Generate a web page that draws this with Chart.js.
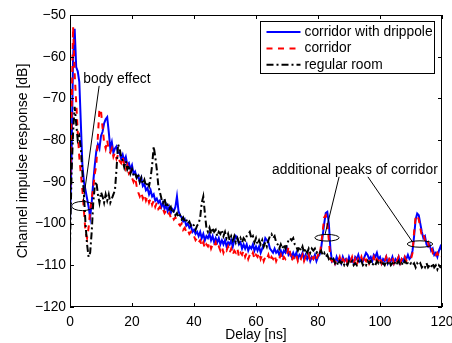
<!DOCTYPE html>
<html>
<head>
<meta charset="utf-8">
<title>Channel impulse response</title>
<script src="https://cdn.jsdelivr.net/npm/chart.js@4.4.1/dist/chart.umd.min.js"></script>
<style>
  html, body { margin: 0; padding: 0; background: #fff; }
  #wrap { width: 452px; height: 343px; }
</style>
</head>
<body>
<div id="wrap"><canvas id="cir-chart" width="452" height="343"></canvas></div>
<script>
// delay axis in ns (one sample every 0.5 ns)
const delayNs = [
  0,0.5,1,1.5,2,2.5,3,3.5,4,4.5, 5,5.5,6,6.5,7,7.5,8,8.5,9,9.5,
  10,10.5,11,11.5,12,12.5,13,13.5,14,14.5, 15,15.5,16,16.5,17,17.5,18,18.5,19,19.5,
  20,20.5,21,21.5,22,22.5,23,23.5,24,24.5, 25,25.5,26,26.5,27,27.5,28,28.5,29,29.5,
  30,30.5,31,31.5,32,32.5,33,33.5,34,34.5, 35,35.5,36,36.5,37,37.5,38,38.5,39,39.5,
  40,40.5,41,41.5,42,42.5,43,43.5,44,44.5, 45,45.5,46,46.5,47,47.5,48,48.5,49,49.5,
  50,50.5,51,51.5,52,52.5,53,53.5,54,54.5, 55,55.5,56,56.5,57,57.5,58,58.5,59,59.5,
  60,60.5,61,61.5,62,62.5,63,63.5,64,64.5, 65,65.5,66,66.5,67,67.5,68,68.5,69,69.5,
  70,70.5,71,71.5,72,72.5,73,73.5,74,74.5, 75,75.5,76,76.5,77,77.5,78,78.5,79,79.5,
  80,80.5,81,81.5,82,82.5,83,83.5,84,84.5, 85,85.5,86,86.5,87,87.5,88,88.5,89,89.5,
  90,90.5,91,91.5,92,92.5,93,93.5,94,94.5, 95,95.5,96,96.5,97,97.5,98,98.5,99,99.5,
  100,100.5,101,101.5,102,102.5,103,103.5,104,104.5, 105,105.5,106,106.5,107,107.5,108,108.5,109,109.5,
  110,110.5,111,111.5,112,112.5,113,113.5,114,114.5, 115,115.5,116,116.5,117,117.5,118,118.5,119,119.5,
  120
];

// channel impulse response in dB
const drippole = [
  -100,-84,-60,-53.3,-62.5,-63.5,-66,-76,-86,-90, -92,-94,-96,-98.5,-95,-90,-86,-82.5,-81,-82,
  -79,-78,-76,-75,-74.5,-78,-82,-80.5,-83,-82, -81.5,-83,-83,-84.5,-83.5,-85,-84,-86,-85.5,-87,
  -86,-88,-87.5,-89,-88.5,-90,-89,-91,-90.5,-92, -91.5,-93,-92,-93.5,-93,-94.5,-94,-95,-94.5,-96,
  -95,-96.5,-95.5,-97,-96,-97.5,-96.5,-97,-96,-93.5, -97,-98,-98.5,-99.5,-99,-100.5,-100,-101,-100.5,-102,
  -101.5,-102.5,-102,-103,-102,-103.5,-102.5,-104,-103,-103.5, -102.5,-104,-103,-104.5,-103.5,-104.5,-103.5,-105,-104,-105,
  -104,-105.5,-104.5,-105,-104,-105.5,-104,-103,-103.5,-105, -104.5,-106,-105,-106,-105,-106.5,-105.5,-106,-105,-106.5,
  -105.5,-106.5,-105.5,-107,-106,-105,-103.5,-104,-104.5,-106, -106.5,-107,-106,-107,-106.5,-107.5,-106.5,-107.5,-106.5,-107,
  -106,-107.5,-107,-108,-107,-108,-107,-108.5,-107.5,-108, -107,-108.5,-107.5,-108.5,-107.5,-109,-108,-108.5,-107.5,-109,
  -108,-107.5,-106,-103,-100,-97.5,-97.2,-100,-106,-109, -108.5,-109.5,-108,-109,-108.5,-109.5,-108,-109,-108.5,-109.5,
  -108,-109,-108.5,-109.5,-108,-108.5,-107.5,-109,-108.5,-109, -108,-107,-107.5,-108.5,-108,-109,-107.5,-108,-107,-108.5,
  -108,-109.5,-108.5,-109,-108,-109.5,-108.5,-109,-108,-109.5, -108.5,-109,-108,-109.5,-108.5,-109,-108,-108.5,-107.5,-108.5,
  -108,-106.5,-103,-99,-97.6,-98,-100,-102,-103.5,-103, -105,-105.5,-105,-106.5,-106,-107.5,-107,-108,-106.5,-105.5,
  -106.5
];
const corridor = [
  -94,-74,-52.8,-64,-71,-78,-84,-88,-92,-97, -102,-103.5,-101,-97,-94,-91.5,-88,-86,-79,-72.5,
  -73,-77,-80.5,-82,-80,-82.5,-83,-82,-84,-83, -84.5,-83.5,-85,-85.5,-84,-86,-87,-86,-88,-87.5,
  -89,-90,-89,-91,-92.5,-93.5,-92.5,-94,-93,-94.5, -93.5,-95,-94,-95.5,-94.5,-96,-95,-96.5,-96,-97,
  -96.5,-97.5,-97,-98,-97.5,-98.5,-98,-99,-98.5,-99.5, -100,-100.5,-100,-101.5,-101,-102,-101.5,-102.5,-102,-103,
  -103,-104,-103.5,-104.5,-104,-105.5,-104.5,-106,-105,-105.5, -104.5,-106,-105,-105.5,-104.5,-106,-105.5,-106.5,-105.5,-107,
  -106,-106.5,-105.5,-107,-106,-107.5,-106.5,-107,-106,-108, -107,-107.5,-106.5,-108,-107,-108.5,-107.5,-108,-107,-108.5,
  -107.5,-108,-107,-108.5,-107.5,-109,-108,-108.5,-107.5,-109, -108,-108.5,-107.5,-109,-108,-108.5,-107.5,-109,-108,-108.5,
  -107.5,-105.5,-107,-109,-108,-108.5,-107.5,-109,-108,-108.5, -107.5,-109,-108,-108.5,-107.5,-109,-108,-108.5,-107.5,-108.5,
  -107.5,-108,-105,-102,-98.5,-98,-100,-104,-108.5,-109, -108,-109.5,-108.5,-109,-108,-109.5,-108.5,-109,-108,-109.5,
  -108.5,-109,-108,-109.5,-108.5,-110,-108.5,-109,-108,-109.5, -108.5,-109,-108,-109.5,-108.5,-109,-108,-109.5,-108.5,-109,
  -108,-109.5,-108.5,-109,-108,-109.5,-108.5,-109,-108,-109.5, -108.5,-109,-108,-109.5,-108.5,-109,-108,-109,-108.5,-108.5,
  -108.5,-107,-102,-98.4,-98,-99,-101,-103,-102.5,-104, -105,-104.5,-106,-105.5,-107,-106.5,-107.5,-107,-108,-107.5,
  -108
];
const regularRoom = [
  -105,-88,-78,-72,-76,-80,-79,-82,-88,-93, -100,-105,-108,-107,-102,-95,-91,-90,-93,-95,
  -92.5,-93.5,-95,-93,-94.5,-93,-95,-94,-93,-92, -87,-81,-82,-84,-85,-86.5,-85,-87,-86,-88,
  -87,-88.5,-88,-89,-88,-90,-89,-90.5,-89.5,-91, -90,-91,-89,-86,-81.5,-84,-87,-91,-92.5,-94,
  -95,-94,-96,-95.5,-96.5,-96,-97.5,-97,-98,-97.5, -98.5,-98,-99,-98.5,-99.5,-99,-100,-99.5,-100.5,-100,
  -100.5,-101.5,-100.5,-100,-98.5,-95,-93.5,-97.5,-101,-102, -101,-102.5,-101,-102,-101.5,-103,-102,-102.5,-101.5,-103,
  -102,-103.5,-102.5,-104,-103,-104,-103,-104.5,-103.5,-104.5, -103.5,-104.5,-103.5,-104,-103,-102.5,-102,-103.5,-103,-104.5,
  -103.5,-105,-104,-105,-104,-105.5,-104.5,-105.5,-104,-103, -102.5,-103.5,-103,-104.5,-105,-106,-105,-106,-105,-106,
  -105,-104,-103.5,-104,-103.5,-105,-105.5,-106.5,-105.5,-106.5, -105.5,-107,-106,-107,-106,-107,-106,-106.5,-106,-107,
  -106.5,-107,-106.5,-107.5,-107,-108,-107.5,-108.5,-108,-109, -108.5,-109.5,-109,-110,-109,-109.5,-109,-110,-109.5,-110,
  -109,-109.5,-109,-110,-109.5,-110,-109,-109.5,-109,-110, -109.5,-110,-109,-109.5,-109,-110,-109.5,-110,-109,-109.5,
  -109,-110,-109.5,-110,-109,-109.5,-109,-110,-109.5,-110, -109,-109.5,-109,-110,-109.5,-110,-109,-109.5,-109.5,-110,
  -109.5,-110,-109.5,-110.5,-109.5,-110,-109.5,-110.5,-110,-110.5, -109.5,-110.5,-110,-110.5,-109.5,-110.5,-110,-111,-110,-110.5,
  -110.5
];

const seriesNames = ['corridor with drippole', 'corridor', 'regular room'];
const xTicks = [0, 20, 40, 60, 80, 100, 120];
const yTicks = [-120, -110, -100, -90, -80, -70, -60, -50];

const FONT = '"Liberation Sans", Arial, Helvetica, sans-serif';
const FONT_SIZE = 13.8;

function pts(values) {
  return values.map((v, i) => ({ x: delayNs[i], y: v }));
}

// annotations, in data units
const notes = {
  body: { text: 'body effect', at: [4.3, -65.3], ring: [4.0, -95.8, 3.5, 1.1], lead: [[9.4, -67], [4.3, -94.6]] },
  peaks: {
    text: 'additional peaks of corridor', at: [65.2, -87.2],
    rings: [[82.9, -103.4, 3.9, 0.8], [112.9, -104.9, 4.1, 0.77]],
    leads: [[[86.8, -88.8], [82.3, -102.5]], [[96.1, -88.8], [110.3, -104.2]]]
  }
};

const styles = [
  { color: '#0000ff', dash: [] },
  { color: '#ff0000', dash: [6, 5.5] },
  { color: '#000000', dash: [7, 3, 2, 3] }
];

const framePlugin = {
  id: 'frame',
  afterDatasetsDraw(chart) {
    const { ctx, chartArea: a, scales: { x, y } } = chart;
    ctx.save();
    ctx.strokeStyle = '#000';
    ctx.lineWidth = 1;
    ctx.setLineDash([]);
    ctx.strokeRect(Math.round(a.left) + 0.5, Math.round(a.top) + 0.5,
      Math.round(a.width) - 1, Math.round(a.height) - 1);
    ctx.beginPath();
    xTicks.forEach(v => {
      const px = Math.round(x.getPixelForValue(v)) + 0.5;
      ctx.moveTo(px, a.bottom); ctx.lineTo(px, a.bottom - 4);
      ctx.moveTo(px, a.top); ctx.lineTo(px, a.top + 4);
    });
    yTicks.forEach(v => {
      const py = Math.round(y.getPixelForValue(v)) + 0.5;
      ctx.moveTo(a.left, py); ctx.lineTo(a.left + 4, py);
      ctx.moveTo(a.right, py); ctx.lineTo(a.right - 4, py);
    });
    ctx.stroke();

    // annotations
    const X = v => x.getPixelForValue(v);
    const Y = v => y.getPixelForValue(v);
    const ring = r => {
      ctx.beginPath();
      ctx.ellipse(X(r[0]), Y(r[1]), X(r[0] + r[2]) - X(r[0]), Y(r[1] - r[3]) - Y(r[1]), 0, 0, Math.PI * 2);
      ctx.stroke();
    };
    const lead = l => {
      ctx.beginPath();
      ctx.moveTo(X(l[0][0]), Y(l[0][1]));
      ctx.lineTo(X(l[1][0]), Y(l[1][1]));
      ctx.stroke();
    };
    ring(notes.body.ring);
    lead(notes.body.lead);
    notes.peaks.rings.forEach(ring);
    notes.peaks.leads.forEach(lead);

    ctx.fillStyle = '#000';
    ctx.font = FONT_SIZE + 'px ' + FONT;
    ctx.textAlign = 'left';
    ctx.textBaseline = 'middle';
    ctx.fillText(notes.body.text, X(notes.body.at[0]), Y(notes.body.at[1]));
    ctx.fillText(notes.peaks.text, X(notes.peaks.at[0]), Y(notes.peaks.at[1]));

    // legend box
    const bx = Math.round(a.right) - 181.5, by = Math.round(a.top) + 6.5, bw = 174, bh = 52;
    ctx.fillStyle = '#fff';
    ctx.fillRect(bx, by, bw, bh);
    ctx.strokeRect(bx, by, bw, bh);
    seriesNames.forEach((name, i) => {
      const ly = by + 10.5 + i * 16.4;
      ctx.save();
      ctx.strokeStyle = styles[i].color;
      ctx.lineWidth = 2;
      ctx.setLineDash(styles[i].dash);
      ctx.beginPath();
      ctx.moveTo(bx + 6, ly);
      ctx.lineTo(bx + 40, ly);
      ctx.stroke();
      ctx.restore();
      ctx.fillStyle = '#000';
      ctx.fillText(name, bx + 44, ly);
    });
    ctx.restore();
  }
};

const ctx = document.getElementById('cir-chart').getContext('2d');
new Chart(ctx, {
  type: 'line',
  data: {
    datasets: [drippole, corridor, regularRoom].map((vals, i) => ({
      label: seriesNames[i],
      data: pts(vals),
      borderColor: styles[i].color,
      borderDash: styles[i].dash,
      borderWidth: 2,
      pointRadius: 0,
      tension: 0,
      fill: false,
      order: 3 - i
    }))
  },
  options: {
    responsive: false,
    animation: false,
    devicePixelRatio: 1,
    layout: { padding: { left: 0, right: 10, top: 15, bottom: 0 } },
    plugins: { legend: { display: false }, tooltip: { enabled: false } },
    scales: {
      x: {
        type: 'linear', min: 0, max: 120,
        afterBuildTicks: s => { s.ticks = xTicks.map(v => ({ value: v })); },
        afterFit: s => { s.height = 36; s.paddingLeft = 0; s.paddingRight = 0; },
        grid: { display: false, drawTicks: false },
        border: { display: false },
        ticks: { color: '#000', padding: 7, maxRotation: 0, font: { family: FONT, size: FONT_SIZE } },
        title: { display: true, text: 'Delay [ns]', color: '#000', padding: { top: 0, bottom: 0 }, font: { family: FONT, size: FONT_SIZE } }
      },
      y: {
        type: 'linear', min: -120, max: -50,
        afterBuildTicks: s => { s.ticks = yTicks.map(v => ({ value: v })); },
        afterFit: s => { s.width = 70; s.paddingTop = 0; s.paddingBottom = 0; },
        grid: { display: false, drawTicks: false },
        border: { display: false },
        ticks: { color: '#000', padding: 4, font: { family: FONT, size: FONT_SIZE },
          callback: v => String(v).replace('-', '\u2212') },
        title: { display: true, text: 'Channel impulse response [dB]', color: '#000', padding: { top: 14.6, bottom: 0 }, font: { family: FONT, size: 14 } }
      }
    }
  },
  plugins: [framePlugin]
});
</script>
</body>
</html>
